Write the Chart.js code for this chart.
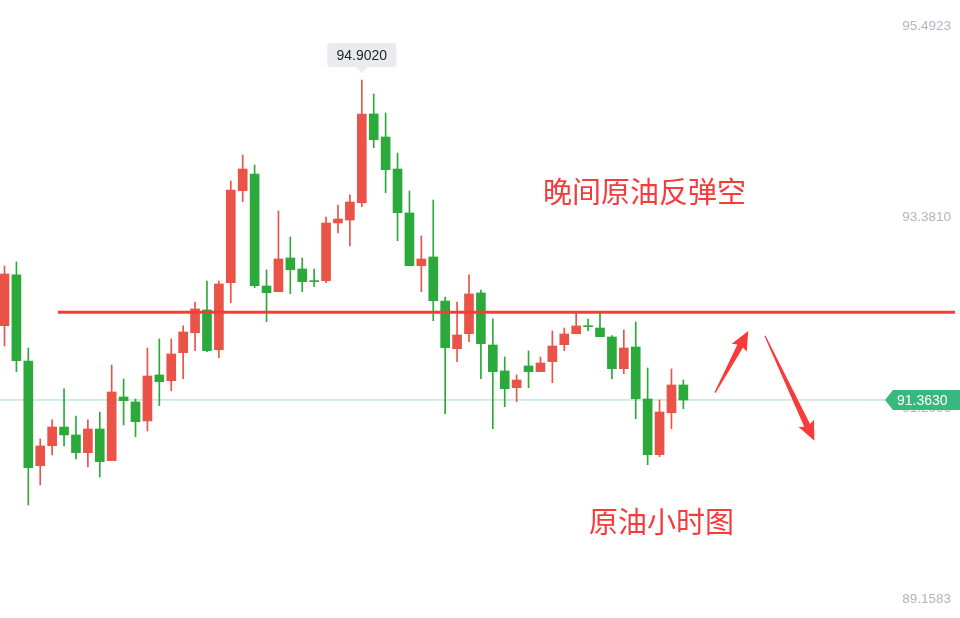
<!DOCTYPE html>
<html>
<head>
<meta charset="utf-8">
<title>原油小时图</title>
<script src="https://cdn.jsdelivr.net/npm/chart.js@4.4.1/dist/chart.umd.min.js"></script>
<style>
    html, body { margin: 0; padding: 0; background: #ffffff; }
    #wrap { width: 960px; height: 618px; }
</style>
</head>
<body>
<div id="wrap"><canvas id="klineChart" width="960" height="618"></canvas></div>
<script>
// Hourly crude oil candles
const opens = [92.185, 92.746, 91.794, 90.636, 90.857, 91.064, 90.976, 90.780, 91.042, 90.692,
    91.396, 91.341, 91.131, 91.640, 91.576, 91.886, 92.107, 92.359, 91.919, 92.661,
    93.678, 93.863, 92.624, 92.561, 92.934, 92.812, 92.679, 92.683, 93.321, 93.354,
    93.545, 94.527, 94.272, 93.918, 93.432, 92.849, 92.945, 92.458, 91.930, 92.096,
    92.547, 91.971, 91.684, 91.499, 91.739, 91.676, 91.787, 91.975, 92.096, 92.182,
    92.159, 92.060, 91.709, 91.949, 91.374, 90.758, 91.222, 91.529];
const highs = [92.845, 92.890, 91.938, 90.932, 91.142, 91.485, 91.186, 91.142, 91.230, 91.750,
    91.595, 91.374, 91.938, 92.038, 92.038, 92.182, 92.447, 92.679, 92.679, 93.786,
    94.073, 93.963, 92.801, 93.454, 93.166, 92.934, 92.812, 93.387, 93.520, 93.631,
    94.902, 94.748, 94.538, 94.095, 93.675, 93.177, 93.575, 92.502, 92.447, 92.746,
    92.580, 92.259, 91.839, 91.640, 91.905, 91.839, 92.126, 92.159, 92.325, 92.259,
    92.325, 92.074, 92.137, 92.226, 91.717, 91.363, 91.706, 91.584];
const lows = [91.960, 91.676, 90.201, 90.423, 90.755, 90.854, 90.710, 90.622, 90.511, 90.692,
    91.086, 90.957, 91.020, 91.300, 91.466, 91.599, 91.908, 91.897, 91.831, 92.439,
    93.557, 92.605, 92.229, 92.561, 92.539, 92.561, 92.616, 92.661, 93.210, 93.067,
    93.501, 94.154, 93.656, 93.125, 92.849, 92.561, 92.240, 91.211, 91.787, 92.008,
    91.599, 91.045, 91.289, 91.344, 91.499, 91.676, 91.554, 91.908, 92.096, 92.130,
    92.063, 91.599, 91.654, 91.156, 90.647, 90.736, 91.045, 91.267];
const closes = [92.757, 91.798, 90.614, 90.854, 91.064, 90.976, 90.780, 91.042, 90.680, 91.451,
    91.355, 91.123, 91.628, 91.565, 91.872, 92.115, 92.370, 91.908, 92.646, 93.686,
    93.918, 92.627, 92.550, 92.923, 92.804, 92.672, 92.672, 93.321, 93.365, 93.553,
    94.527, 94.242, 93.911, 93.435, 92.849, 92.923, 92.461, 91.941, 92.082, 92.536,
    91.986, 91.676, 91.488, 91.584, 91.676, 91.772, 91.960, 92.093, 92.182, 92.174,
    92.063, 91.709, 91.938, 91.377, 90.758, 91.230, 91.529, 91.363];

const yTickValues = [89.1583, 91.2696, 93.3810, 95.4923];
const lastPrice = 91.3630;
const peakIndex = 30;
const peakPrice = 94.9020;

// drawn-in level and notes (bar index, price)
const resistanceLevel = 92.334;
const resistanceSpan = [4.49, 79.8];
const arrowUp = [[59.66, 91.444], [62.45, 92.126]];
const arrowDown = [[63.85, 92.074], [68.0, 90.913]];
const noteTitle = { text: '晚间原油反弹空', x: 45.21, y: 93.664 };
const noteCaption = { text: '原油小时图', x: 49.08, y: 90.008 };

const RED = '#ea5347';
const GREEN = '#2ba93b';
const MARK_RED = '#f73b3b';

document.addEventListener('DOMContentLoaded', function() {
    renderKline();
});

function candleColors() {
    return closes.map((c, i) => c >= opens[i] ? RED : GREEN);
}

function drawArrow(ctx, x0, y0, x1, y1) {
    const len = Math.hypot(x1 - x0, y1 - y0);
    const dx = (x1 - x0) / len, dy = (y1 - y0) / len;
    const nx = -dy, ny = dx;
    const head = 17;
    const bx = x1 - dx * head, by = y1 - dy * head;
    ctx.beginPath();
    ctx.moveTo(x0 + nx * 0.6, y0 + ny * 0.6);
    ctx.lineTo(bx + nx * 3.2, by + ny * 3.2);
    ctx.lineTo(bx - dx * 2 + nx * 8.5, by - dy * 2 + ny * 8.5);
    ctx.lineTo(x1, y1);
    ctx.lineTo(bx - dx * 2 - nx * 8.5, by - dy * 2 - ny * 8.5);
    ctx.lineTo(bx - nx * 3.2, by - ny * 3.2);
    ctx.lineTo(x0 - nx * 0.6, y0 - ny * 0.6);
    ctx.closePath();
    ctx.fill();
}

// notes, peak bubble and last price tag
const overlayPlugin = {
    id: 'overlay',
    afterDraw(chart) {
        const ctx = chart.ctx;
        const xs = chart.scales.x, ys = chart.scales.y;
        const area = chart.chartArea;
        ctx.save();

        // peak bubble
        const px = xs.getPixelForValue(peakIndex);
        const py = ys.getPixelForValue(peakPrice);
        const bw = 69, bh = 24, by = py - 13 - bh;
        ctx.fillStyle = '#e9ebee';
        ctx.beginPath();
        ctx.roundRect(px - bw / 2, by, bw, bh, 3);
        ctx.fill();
        ctx.beginPath();
        ctx.moveTo(px - 6, by + bh);
        ctx.lineTo(px, by + bh + 6);
        ctx.lineTo(px + 6, by + bh);
        ctx.fill();
        ctx.fillStyle = '#262626';
        ctx.font = '14px "Liberation Sans", Arial, sans-serif';
        ctx.textAlign = 'center';
        ctx.textBaseline = 'middle';
        ctx.fillText(peakPrice.toFixed(4), px, by + bh / 2 + 1);

        // last price tag
        const ly = Math.round(ys.getPixelForValue(lastPrice));
        const tagLeft = area.right - 75;
        ctx.fillStyle = '#37b87e';
        ctx.beginPath();
        ctx.moveTo(tagLeft, ly);
        ctx.lineTo(tagLeft + 8, ly - 10);
        ctx.lineTo(area.right, ly - 10);
        ctx.lineTo(area.right, ly + 10);
        ctx.lineTo(tagLeft + 8, ly + 10);
        ctx.closePath();
        ctx.fill();
        ctx.fillStyle = '#ffffff';
        ctx.textAlign = 'left';
        ctx.fillText(lastPrice.toFixed(4), tagLeft + 12, ly + 1);

        // hand-drawn arrows
        ctx.fillStyle = MARK_RED;
        [arrowUp, arrowDown].forEach(a => {
            drawArrow(ctx,
                xs.getPixelForValue(a[0][0]), ys.getPixelForValue(a[0][1]),
                xs.getPixelForValue(a[1][0]), ys.getPixelForValue(a[1][1]));
        });

        // notes
        ctx.fillStyle = '#f53b3c';
        ctx.font = '29px "Noto Sans CJK SC", sans-serif';
        ctx.textAlign = 'left';
        ctx.textBaseline = 'middle';
        [noteTitle, noteCaption].forEach(n => {
            ctx.fillText(n.text, xs.getPixelForValue(n.x), ys.getPixelForValue(n.y));
        });
        ctx.restore();
    }
};

function renderKline() {
    const colors = candleColors();
    const wicks = highs.map((h, i) => ({ x: i, y: [lows[i], h] }));
    const bodies = opens.map((o, i) => ({ x: i, y: [Math.min(o, closes[i]), Math.max(o, closes[i])] }));

    new Chart(document.getElementById('klineChart'), {
        type: 'bar',
        data: {
            datasets: [
                {
                    type: 'line',
                    data: [{ x: resistanceSpan[0], y: resistanceLevel }, { x: resistanceSpan[1], y: resistanceLevel }],
                    borderColor: MARK_RED,
                    borderWidth: 3,
                    pointRadius: 0,
                    order: 0
                },
                {
                    data: bodies,
                    backgroundColor: colors,
                    barThickness: 9,
                    minBarLength: 1,
                    grouped: false,
                    order: 1
                },
                {
                    data: wicks,
                    backgroundColor: colors,
                    barThickness: 1,
                    grouped: false,
                    order: 2
                },
                {
                    type: 'line',
                    data: [{ x: -1, y: lastPrice }, { x: 82, y: lastPrice }],
                    borderColor: '#a3d9c3',
                    borderWidth: 1,
                    pointRadius: 0,
                    order: 3
                }
            ]
        },
        options: {
            responsive: false,
            animation: false,
            layout: { padding: 0 },
            plugins: { legend: { display: false }, tooltip: { enabled: false } },
            scales: {
                x: {
                    type: 'linear',
                    display: false,
                    min: -0.378,
                    max: 80.227,
                    offset: false
                },
                y: {
                    position: 'right',
                    min: 88.951,
                    max: 95.7877,
                    grid: { display: false, drawTicks: false },
                    border: { display: false },
                    afterBuildTicks: scale => {
                        scale.ticks = yTickValues.map(v => ({ value: v }));
                    },
                    // labels sit inside the plot, axis takes no room
                    afterFit: scale => {
                        scale.width = 0;
                        scale.paddingTop = 0;
                        scale.paddingBottom = 0;
                        scale.paddingLeft = 0;
                        scale.paddingRight = 0;
                    },
                    ticks: {
                        mirror: true,
                        padding: -9,
                        color: '#b2b5be',
                        font: { family: '"Liberation Sans", Arial, sans-serif', size: 13.5 },
                        callback: v => Number(v).toFixed(4)
                    }
                }
            }
        },
        plugins: [overlayPlugin]
    });
}
</script>
</body>
</html>
